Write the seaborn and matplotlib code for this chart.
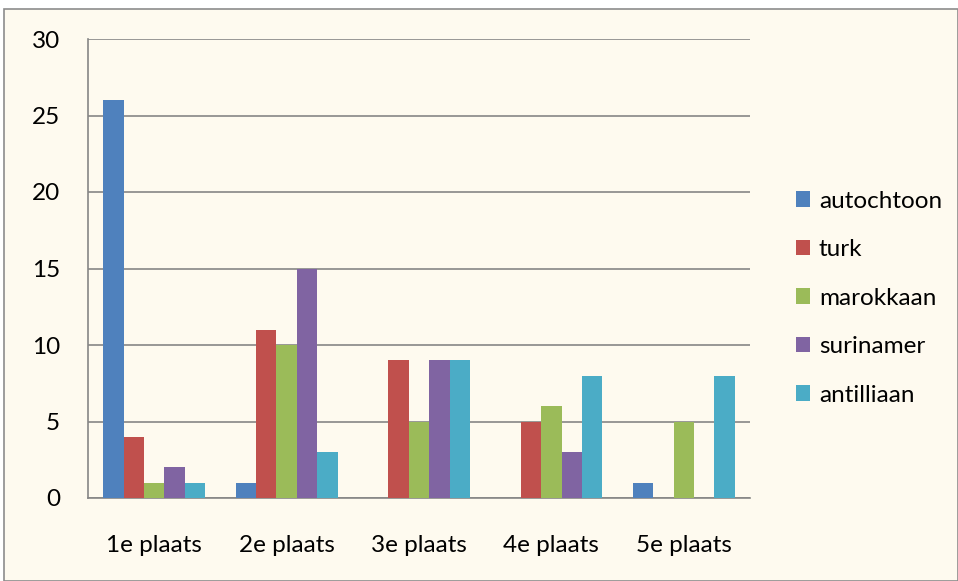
import matplotlib
matplotlib.use("Agg")
import matplotlib.pyplot as plt
import seaborn as sns
import pandas as pd
from matplotlib.patches import Rectangle, Patch

categories = ["1e plaats", "2e plaats", "3e plaats", "4e plaats", "5e plaats"]
series = ["autochtoon", "turk", "marokkaan", "surinamer", "antilliaan"]
autochtoon = [26, 1, 0, 0, 1]
turk = [4, 11, 9, 5, 0]
marokkaan = [1, 10, 5, 6, 5]
surinamer = [2, 15, 9, 3, 0]
antilliaan = [1, 3, 9, 8, 8]
colors = ["#4F81BD", "#C0504D", "#9BBB59", "#8064A2", "#4BACC6"]
yticks = [0, 5, 10, 15, 20, 25, 30]

values = [autochtoon, turk, marokkaan, surinamer, antilliaan]
rows = []
for s, vals in zip(series, values):
    for c, v in zip(categories, vals):
        rows.append({"plaats": c, "groep": s, "aantal": v})
df = pd.DataFrame(rows)

sns.set_theme(style="white")
plt.rcParams["font.family"] = ["Lato", "DejaVu Sans"]
plt.rcParams["text.color"] = "black"

W, H = 958, 581
fig = plt.figure(figsize=(W / 100, H / 100), dpi=100)
fig.patch.set_facecolor("white")
bg = "#FEFAEF"
fig.patches.append(Rectangle((4 / W, 0), 1 - 4 / W, (H - 9) / H, transform=fig.transFigure,
                             facecolor=bg, edgecolor="#8C8C8C", linewidth=1.2, zorder=-5))

x0, x1, ytop, ybot = 88, 750, 39, 498
ax = fig.add_axes([x0 / W, (H - ybot) / H, (x1 - x0) / W, (ybot - ytop) / H])
ax.set_zorder(2)
ax.set_facecolor("none")

sns.barplot(data=df, x="plaats", y="aantal", hue="groep", order=categories, hue_order=series,
            palette=colors, width=0.77, saturation=1, ax=ax, legend=False, zorder=3,
            edgecolor="none", linewidth=0)

fs = 17.5
ax.set_ylim(0, 30)
ax.set_xlim(-0.5, 4.5)
ax.set_yticks(yticks)
ax.set_yticklabels([str(t) for t in yticks], fontsize=fs, color="black")
ax.yaxis.grid(True, color="#868686", linewidth=1.2, zorder=1)
ax.set_axisbelow(True)
ax.set_xlabel("")
ax.set_ylabel("")
ax.set_xticks(range(len(categories)))
ax.set_xticklabels(categories, fontsize=fs, color="black")
ax.set_xticks([i - 0.5 for i in range(len(categories) + 1)], minor=True)
ax.tick_params(axis="x", which="major", length=0, pad=27)
ax.tick_params(axis="x", which="minor", length=8, width=1.2, color="#868686", direction="out")
ax.tick_params(axis="y", length=8, width=1.2, color="#868686", direction="out", pad=12)
for s in ["top", "right"]:
    ax.spines[s].set_visible(False)
for s in ["left", "bottom"]:
    ax.spines[s].set_color("#868686")
    ax.spines[s].set_linewidth(1.2)

handles = [Patch(facecolor=c, edgecolor="none") for c in colors]
fig.legend(handles, series, loc="upper left", bbox_to_anchor=(786 / W, 1 - 181 / H),
           frameon=False, fontsize=fs, handlelength=0.6, handleheight=0.6,
           handletextpad=0.35, labelspacing=1.13, borderaxespad=0, labelcolor="black")

fig.savefig("out.png", dpi=100, facecolor="white")
